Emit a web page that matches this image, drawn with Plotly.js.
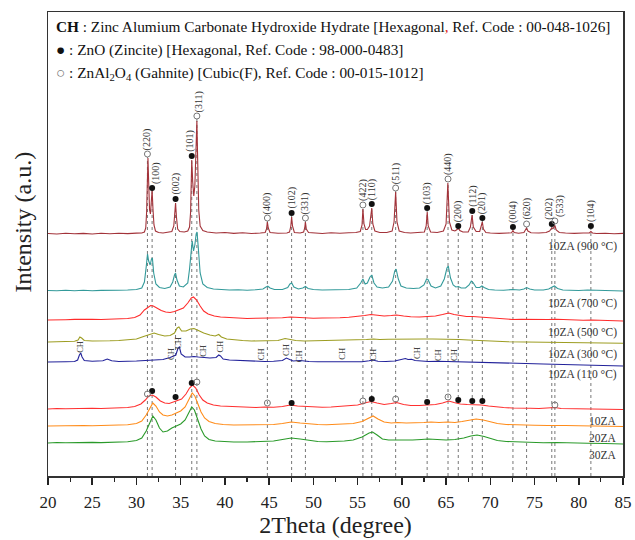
<!DOCTYPE html>
<html>
<head>
<meta charset="utf-8">
<script src="https://cdn.plot.ly/plotly-3.0.1.min.js"></script>
<style>
  html, body { margin: 0; padding: 0; background: #fff; }
  #chart { width: 635px; height: 540px; }
</style>
</head>
<body>
<div id="chart"></div>
<script>
// ---- XRD patterns: 2-theta (deg) and intensity above each pattern's own baseline (a.u.) ----
const tt900 = [20,21,22,23,24,25,26,27,28,29,30,30.6,30.9,31.05,31.15,31.24,31.3,31.38,31.48,31.58,31.68,31.77,31.86,31.98,32.15,32.5,33,33.6,34.0,34.22,34.33,34.42,34.52,34.66,34.9,35.4,35.8,36.0,36.12,36.25,36.36,36.48,36.6,36.72,36.83,36.93,37.04,37.2,37.5,38,39,40,41,42,43,44,44.55,44.7,44.8,44.9,45.1,46,47,47.3,47.45,47.54,47.64,47.85,48.5,48.9,49.02,49.1,49.2,49.45,50,51,52,53,54,54.8,55.3,55.5,55.6,55.72,55.9,56.1,56.35,56.5,56.6,56.72,56.95,57.5,58.3,58.9,59.12,59.3,59.45,59.7,60.3,61,62,62.55,62.75,62.87,62.98,63.25,64,64.7,65.0,65.2,65.38,65.65,66.0,66.25,66.4,66.55,66.9,67.5,67.75,67.94,68.08,68.4,68.8,68.98,69.1,69.22,69.5,70,71,72,72.4,72.56,72.7,73.2,73.8,74.0,74.1,74.25,74.6,75.5,76.3,76.7,76.95,77.1,77.3,77.45,77.8,78.5,79.5,80.5,81.2,81.37,81.55,82,83,84,85];
const i900  = [0.5,0,0.8,0.2,0.6,0,0.7,0.3,0.8,0.4,0.9,1,2,6,22,62,76,52,24,20,32,44,26,9,3,1.5,1,1.5,2.5,8,22,31,17,5,2.5,2,3,7,22,74,52,38,48,90,113,70,24,8,3.5,2,1,1.5,0.6,1.2,0.5,1,1.5,5,12,6,1.5,0.8,1,2,8,17,8,1.5,1,2,6,12,5,1.5,1,0.5,1.2,0.7,1.3,1.5,2.5,9,25,10,4.5,4.5,8,17,26,10,3,1.5,1.5,3,12,42,12,3,1.5,1,1.2,2,8,22,8,2,1.5,3,10,51,12,4,3,4.5,6.5,3.5,2,2,7,19,7,2.5,2.5,7,12,5,1.5,1,0.6,1,1.2,3.5,1.5,0.8,1.5,4.5,6,3,1.2,1,1.5,3,6,5.5,8.5,4,1.5,1,0.6,1,1,2.5,1,0.5,0.8,0.3,0.6];

const tt700 = [20,21,22,23,24,25,26,27,28,29,30,30.6,30.9,31.1,31.25,31.38,31.55,31.7,31.8,31.95,32.2,32.6,33.2,33.8,34.1,34.3,34.42,34.58,34.85,35.3,35.8,36.0,36.2,36.3,36.45,36.6,36.75,36.85,37.0,37.2,37.5,38,38.7,39.5,40.5,41.5,42.5,43.5,44.3,44.65,44.85,45.1,45.6,46.5,47.1,47.35,47.55,47.8,48.3,48.8,49.1,49.4,50,51,52,53,54,54.9,55.35,55.6,55.85,56.1,56.4,56.6,56.85,57.2,57.8,58.5,58.95,59.2,59.35,59.6,59.9,60.5,61.3,62,62.5,62.8,62.95,63.3,63.8,64.4,64.8,65.1,65.25,65.5,65.8,66.1,66.4,66.7,67.2,67.6,67.85,68.05,68.4,68.8,69.05,69.3,69.8,70.5,71.5,72.5,73.3,73.8,74.1,74.45,75,76,76.6,77.0,77.25,77.6,78.2,79,80,81,82,83,84,85];
const i700  = [0.5,0.2,0.8,0.3,0.7,0.2,0.6,0.4,0.8,1,1.5,3,9,24,37,30,26,32,33,18,7,3.5,2.5,4,9,16,18,11,5,4,8,22,44,50,40,46,57,59,42,18,7,3.5,2,1.5,1,1.2,0.8,1.3,2,4,4.8,3,1.5,1.5,3.5,7,8,4,2,3,4.5,2.5,1.5,1,1.3,1,1.5,3,8,12,7,8,14,16,8,4,3,4,10,20,22,12,5,3,2.5,3,6,12,11.5,5,3,5,12,23,25,13,6,4,4.5,3,3,6,10,8.5,3.5,3.5,5,3.5,1.5,1,0.8,1.5,1,2,3.5,2,1,1,2,4,5,2.5,1,0.8,0.5,1,0.6,0.4,0.2,0];

const tt500 = [20,21,22,23,24,25,26,27,28,29,29.8,30.4,30.9,31.3,31.6,31.9,32.3,32.8,33.3,33.8,34.3,34.8,35.3,35.8,36.2,36.45,36.8,37.2,37.6,38.1,38.8,39.5,40.5,41.5,42.5,43.5,44.5,45.5,46.5,47.4,48.2,49,50,51,52,53,54,55,55.8,56.5,57.2,58,58.8,59.4,60.2,61,62,62.9,63.8,64.6,65.3,65.9,66.5,67.3,68,68.8,69.5,70.5,71.5,72.5,73.5,74.5,75.5,76.5,77.5,78.5,79.5,80.5,81.5,82.5,83.5,84.5,85];
const i500  = [0,0.5,0.3,0.6,0.3,0.6,0.5,0.8,1,1.5,2.5,5,10,13,14.5,14,12,9.5,8,7.5,8.5,10,12,17,22,23,20,14,9,6,4,3,2.5,2,1.5,1.8,2,1.8,2.2,3,2.5,2,1.8,2,1.8,2.2,2.8,3.5,4.5,5.5,4.8,4,4.5,5,4,3.2,3,3.5,4,5.5,7,5.5,4.5,3.5,3.5,3,2.5,1.5,1,0.5,0.8,0.5,0.3,0.5,0.8,0.3,0,-0.3,0,-0.5,-0.5,-0.8,-1];

const tt300 = [20,21,22,23,23.4,23.6,23.8,24.1,25,26,27,28,29,30,30.8,31.5,32.0,32.5,33.2,33.8,34.3,34.6,34.8,35.1,35.6,36.1,36.5,37.0,37.6,38.3,38.9,39.3,39.6,40.2,41,42,43,44,45,46,46.8,47.3,48,49,50,51,52,53,54,55,56,56.8,57.5,58.5,59.5,60.5,61.5,62.5,63.5,64.5,65.5,66.5,67.5,68.5,69.5,70.5,72,74,76,78,80,82,84,85];
const i300  = [0,0.5,0.3,0.8,2,5,4,1.5,1,0.8,1.2,1.5,2,3,5.5,8,9,7.5,6,6.5,9,14,15,11,11,13,13.5,11.5,9,7,6,7.5,5,3,2,1.5,1,1.2,1,1.5,3.5,2.5,1.5,1,1.2,0.8,1,1.2,1.5,2,2.5,3,2.5,2.8,3,3,2.8,3,3,3,3,2.5,2,1.5,1,0.5,0.3,0,-0.3,-0.5,-0.8,-1,-1.2,-1.3];

const tt110 = [20,21,22,23,23.35,23.55,23.7,23.85,24.1,25,26.2,26.7,27.2,28,29,30,31,32,33,33.8,34.15,34.45,34.7,34.85,35.05,35.5,36.0,36.5,37.0,37.6,38.3,39.0,39.3,39.5,39.8,40.5,41.5,42.5,43.5,44.5,45.5,46.5,46.95,47.2,47.7,48.5,49.5,50.5,51.5,52.5,53.5,54.5,55.5,56.3,56.7,57.3,58.2,59.2,60.0,60.4,60.7,61.1,61.5,62.2,63,64,65,66,67,68,70,72,74,76,78,80,82,84,85];
const i110  = [0,0.5,0.3,0.5,2,7,9,5,1.5,0.8,1.2,3,1.2,0.5,0.5,1,1.5,2,2.5,4.5,6,7,14,15,8,5,5,5.5,5,4.5,4,4.5,7,6,3,2,1.5,1,0.8,0.5,0.8,1.5,4,3,1,1.5,0.5,0.3,0,0.3,0.2,0,0.3,1.2,2,0.8,0.5,1,2.5,3.5,2.5,2.8,1.5,1,0.5,0.8,0.5,0.2,0.5,0,-0.5,-1,-1.5,-2,-2.5,-3,-3.5,-4,-4];

const tt10 = [20,21,22,23,24,25,26,27,28,29,29.8,30.5,31.0,31.4,31.8,32.2,32.7,33.2,33.7,34.2,34.6,35.1,35.6,36.0,36.35,36.7,37.1,37.5,38.0,38.7,39.5,40.5,41.5,42.5,43.5,44.5,45.5,46.5,47.4,48.2,49,50,51,52,53,54,55,55.8,56.5,57.2,58,58.8,59.4,60.2,61,62,62.9,63.8,64.6,65.3,65.9,66.6,67.4,68.2,69,69.8,70.6,71.5,72.5,73.5,74.5,75.5,76.5,77.3,78,79,80,81,82,83,84,85];
const i10  = [0,0.5,0.2,0.6,0.3,0.7,0.5,0.8,1,1.5,2.5,5,9,13,14,12,8,6,5.5,7,8,10,15,21,24,21,14,9,6,4,3,2.5,2,1.5,1.5,2,1.8,2.5,4,3,2.5,2,1.8,2,2.5,3,4,6,7.5,6,4.5,5.5,6.5,4.5,3.5,3.5,4,4.5,6,8,6.5,5,4.5,4.5,4,3,2,1.5,1,1.2,0.8,0.5,0.8,1.5,0.5,0.3,0,0.3,-0.2,0,-0.5,-0.5];

const tt20 = [20,21,22,23,24,25,26,27,28,29,30,30.6,31.1,31.5,31.85,32.2,32.6,33.0,33.5,34.0,34.5,35.0,35.5,35.9,36.3,36.6,36.9,37.3,37.7,38.2,38.9,39.8,41,42.5,44,45.5,46.5,47.5,48.5,49.5,50.5,51.5,52.5,53.5,54.5,55.5,56.3,56.75,57.3,58,58.8,59.5,60.5,61.5,62.5,63.3,64.2,65.2,66,66.8,67.6,68.4,69.2,70,70.8,71.8,73,74,75,76.5,77.5,78.5,80,81.5,83,85];
const i20  = [0,0.3,0.6,0.2,0.5,0.3,0.6,0.5,0.8,1.2,2.5,5,11,18,23,20,14,11,10,11,13,15,19,26,33,30,23,14,8,4.5,2.5,1.5,1,1,1.2,1.5,2.5,4,3,2,1.5,1.2,1.5,2,2.5,4.5,8,10,7,4,3,3.5,3,3,3.5,4,3.5,4,3.5,4.5,6,7,6,4,2.5,1.5,1,1,0.8,0.5,0.8,0.5,0.3,0,0,-0.5];

const tt30 = [20,21,22,23,24,25,26,27,28,29,30,30.6,31.1,31.5,31.85,32.2,32.6,33.0,33.5,34.0,34.5,35.0,35.5,35.9,36.25,36.55,36.9,37.3,37.7,38.2,38.9,39.8,41,42.5,44,45.5,46.5,47.5,48.5,49.5,50.5,51.5,52.5,53.5,54.5,55.5,56.3,56.7,57.2,57.8,58.5,59.3,60.2,61.2,62.2,63,64,65,66,67,67.8,68.5,69.3,70,70.8,71.8,73,74.5,76,77.5,79,81,83,85];
const i30  = [0,0.5,0.2,0.5,0.3,0.6,0.4,0.6,0.8,1.2,2.5,5,12,21,27,23,15,11,12,15,17,19,23,30,36,33,24,14,7,3.5,2,1.5,1,1,1.2,2,3.5,5,4,2.5,1.5,1.2,1.5,2,3,6,10,11,8,4,3,3,2.5,3,3.5,4,3.5,3,3.5,5,7,8,6.5,4.5,2.5,1.5,1,0.5,0.3,0.5,0,-0.3,-0.5,-1];

// Sample names, line colours and the stacking baseline of each pattern (top to bottom)
const sampleNames = ['10ZA (900 °C)', '10ZA (700 °C)', '10ZA (500 °C)', '10ZA (300 °C)', '10ZA (110 °C)', '10ZA', '20ZA', '30ZA'];
const sampleColors = ['#a3333a', '#339a9a', '#ff2b2b', '#9d9d22', '#22229a', '#ff3030', '#ff8c1a', '#2a9a2a'];
const stackBase = [242, 185, 156, 134, 114, 67, 50, 33];
const thetas = [tt900, tt700, tt500, tt300, tt110, tt10, tt20, tt30];
const counts = [i900, i700, i500, i300, i110, i10, i20, i30];

// Reference reflections: ZnO (zincite) and ZnAl2O4 (gahnite)
const znoPos = [31.77, 34.42, 36.25, 47.54, 56.60, 62.86, 66.38, 67.96, 69.10, 72.56, 76.95, 81.37];
const znoHkl = ['(100)', '(002)', '(101)', '(102)', '(110)', '(103)', '(200)', '(112)', '(201)', '(004)', '(202)', '(104)'];
const znoMark900 = [288, 277, 320, 263, 272, 268, 250, 265, 258, 249, 252, 250];
const gahPos = [31.24, 36.83, 44.80, 49.10, 55.60, 59.30, 65.22, 74.10, 77.30];
const gahHkl = ['(220)', '(311)', '(400)', '(331)', '(422)', '(511)', '(440)', '(620)', '(533)'];
const gahMark900 = [322, 360, 258, 258, 271, 288, 297, 252, 255];

// Phase markers on the 10ZA pattern
const zno10Pos = [31.77, 34.42, 36.25, 47.54, 56.60, 62.86, 66.38, 67.96, 69.10];
const zno10Mark = [85, 79, 93, 73, 77, 74, 76, 75, 75];
const gah10Pos = [31.24, 36.83, 44.80, 55.60, 59.30, 65.22, 77.30];
const gah10Mark = [82, 94, 73, 75, 77, 79, 71];

// CH (Zn-Al carbonate LDH) reflections flagged on the 110 °C pattern
const chPos = [23.6, 33.9, 34.7, 37.5, 39.4, 44.1, 46.9, 48.4, 53.2, 56.7, 61.7, 64.1, 65.9];
const chMark = [129, 122, 133, 125, 129, 122, 126, 120, 122, 121, 123, 121, 121];

const SERIF = 'Liberation Serif, Times New Roman, serif';

// small sideways nudges so that neighbouring hkl labels do not collide
const znoLabelNudge = [4, 0, -2, 0, 0, 0, 0, 0, 0, 0, -3, 0];
const gahLabelNudge = [0, 2, 0, 0, 0, 0, 0, 0, 5];

const traces = [];
thetas.forEach((tt, k) => {
  traces.push({
    type: 'scatter', mode: 'lines',
    x: tt,
    y: counts[k].map(v => v + stackBase[k]),
    line: { color: sampleColors[k], width: 1.1 },
    hoverinfo: 'skip', showlegend: false
  });
});

const filledDot = { color: '#111', size: 6, symbol: 'circle' };
const openDot = { color: '#777', size: 6, symbol: 'circle-open', line: { width: 1, color: '#777' } };
traces.push({ type: 'scatter', mode: 'markers', x: znoPos, y: znoMark900, marker: filledDot, showlegend: false, hoverinfo: 'skip' });
traces.push({ type: 'scatter', mode: 'markers', x: gahPos, y: gahMark900, marker: openDot, showlegend: false, hoverinfo: 'skip' });
traces.push({ type: 'scatter', mode: 'markers', x: zno10Pos, y: zno10Mark, marker: filledDot, showlegend: false, hoverinfo: 'skip' });
traces.push({ type: 'scatter', mode: 'markers', x: gah10Pos, y: gah10Mark, marker: openDot, showlegend: false, hoverinfo: 'skip' });

// Dotted guide lines from each reflection marker down to the axis
const shapes = [];
const guides = znoPos.map((p, i) => [p, znoMark900[i]]).concat(gahPos.map((p, i) => [p, gahMark900[i]]));
guides.forEach(([p, top]) => {
  shapes.push({ type: 'line', xref: 'x', yref: 'y', x0: p, x1: p, y0: 0, y1: top - 3,
    line: { color: '#777', width: 1, dash: 'dot' }, layer: 'below' });
});

const annotations = [];
// hkl labels above the 900 °C markers
znoPos.forEach((p, i) => annotations.push({ x: p, y: znoMark900[i], xref: 'x', yref: 'y', text: znoHkl[i],
  textangle: -90, showarrow: false, xanchor: 'center', yanchor: 'bottom', yshift: 2, xshift: znoLabelNudge[i],
  font: { family: SERIF, size: 10, color: '#333' } }));
gahPos.forEach((p, i) => annotations.push({ x: p, y: gahMark900[i], xref: 'x', yref: 'y', text: gahHkl[i],
  textangle: -90, showarrow: false, xanchor: 'center', yanchor: 'bottom', yshift: 2, xshift: gahLabelNudge[i],
  font: { family: SERIF, size: 10, color: '#333' } }));
// CH flags
chPos.forEach((p, i) => annotations.push({ x: p, y: chMark[i], xref: 'x', yref: 'y', text: 'CH',
  textangle: -90, showarrow: false, xanchor: 'center', yanchor: 'middle',
  font: { family: SERIF, size: 8.5, color: '#444' } }));
// sample names under each pattern, right aligned
sampleNames.forEach((name, k) => annotations.push({ x: 0.993, xref: 'paper', y: stackBase[k] - 12, yref: 'y',
  text: name, showarrow: false, xanchor: 'right', yanchor: 'middle',
  font: { family: SERIF, size: 11.5, color: '#333' } }));
// phase key
const keyLines = [
  '<b>CH</b> : Zinc Alumium Carbonate Hydroxide Hydrate [Hexagonal<span style="color:#e02020">,</span> Ref. Code : 00-048-1026]',
  '● : ZnO (Zincite) [Hexagonal, Ref. Code : 98-000-0483]',
  '<span style="color:#777">○</span> : ZnAl<sub>2</sub>O<sub>4</sub> (Gahnite) [Cubic(F), Ref. Code : 00-015-1012]'
];
const keyY = [0.968, 0.918, 0.868];
keyLines.forEach((t, i) => annotations.push({ x: 0.011, xref: 'paper', y: keyY[i], yref: 'paper', text: t,
  showarrow: false, xanchor: 'left', yanchor: 'middle', font: { family: SERIF, size: 15.3, color: '#111' } }));
// intensity axis title
annotations.push({ x: -0.043, xref: 'paper', y: 0.547, yref: 'paper', text: 'Intensity (a.u.)',
  textangle: -90, showarrow: false, xanchor: 'center', yanchor: 'middle',
  font: { family: SERIF, size: 24, color: '#222' } });

const layout = {
  width: 635, height: 540,
  margin: { l: 48, r: 12, t: 12, b: 64 },
  paper_bgcolor: '#fff', plot_bgcolor: '#fff',
  font: { family: SERIF, color: '#222' },
  xaxis: {
    range: [20, 85], tick0: 20, dtick: 5, ticks: 'outside', ticklen: 7, tickwidth: 1.5, tickcolor: '#222',
    minor: { dtick: 2.5, ticks: 'outside', ticklen: 4, tickwidth: 1.2, tickcolor: '#222' },
    showline: true, linewidth: 1.5, linecolor: '#333', mirror: true,
    showgrid: false, zeroline: false,
    tickfont: { family: SERIF, size: 17, color: '#222' },
    ticklabelstandoff: 3,
    title: { text: '2Theta (degree)', font: { family: SERIF, size: 24, color: '#222' }, standoff: 3 },
    automargin: false
  },
  yaxis: {
    range: [0, 464], showticklabels: false, ticks: '',
    showline: true, linewidth: 1.5, linecolor: '#333', mirror: true,
    showgrid: false, zeroline: false,
    automargin: false
  },
  shapes: shapes,
  annotations: annotations
};

Plotly.newPlot('chart', traces, layout, { staticPlot: true, displayModeBar: false });
</script>
</body>
</html>
